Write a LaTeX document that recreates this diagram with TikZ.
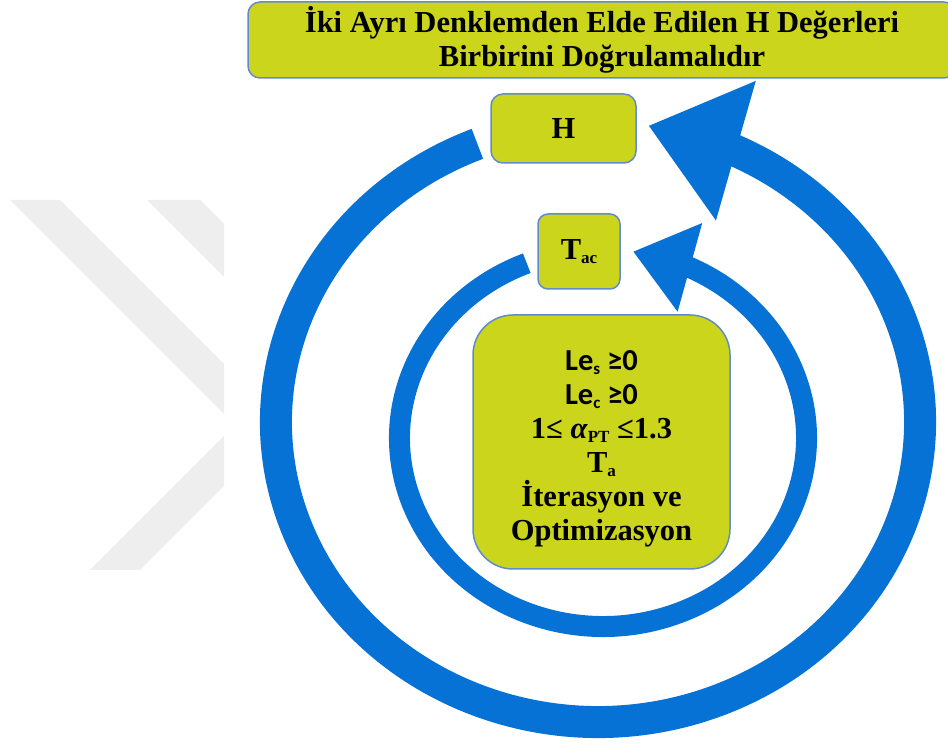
\documentclass[tikz,border=0pt]{standalone}
\usepackage{fontspec}
\setmainfont{Liberation Serif}
\newfontfamily\calib{Carlito}
\usetikzlibrary{arrows.meta,bending}
\definecolor{boxgreen}{RGB}{203,213,28}
\definecolor{boxedge}{RGB}{96,140,204}
\definecolor{ringblue}{RGB}{6,114,214}
\definecolor{wmgrey}{RGB}{238,238,238}
\newcommand{\idx}[1]{\raisebox{-0.3ex}{\fontsize{17}{17}\selectfont #1}}

\begin{document}
\begin{tikzpicture}[x=1pt, y=1pt, line width=1.5pt,
  main/.style = {draw=boxedge, fill=boxgreen, align=center, inner sep=0pt, font=\fontsize{30.5}{34}\selectfont\bfseries},
  ring/.style = {draw=ringblue, line width=#1}]
\useasboundingbox (0,0) rectangle (948,744);
\begin{scope}
\clip (0,174) rectangle (224,544);
\fill[wmgrey] (10,544) -- (60,544) -- (300,304) -- (250,304) -- cycle;
\fill[wmgrey] (147,544) -- (200,544) -- (300,444) -- (247,444) -- cycle;
\fill[wmgrey] (90,174) -- (140,174) -- (340,374) -- (290,374) -- cycle;
\end{scope}
\coordinate (oc) at (598,322);
\coordinate (ic) at (603,306);
\draw[ring=32, -{Triangle[width=139pt,length=91pt]}] (oc) ++(112:322 and 300) arc[start angle=112, end angle=441, x radius=322, y radius=300];
\draw[ring=21, -{Triangle[width=88pt,length=59pt]}] (ic) ++(112:203.5 and 188.5) arc[start angle=112, end angle=441.5, x radius=203.5, y radius=188.5];
\node[main, rounded corners=12pt, minimum width=708pt, minimum height=76pt] (top) at (602,704) {İki Ayrı Denklemden Elde Edilen H Değerleri\\Birbirini Doğrulamalıdır};
\node[main, rounded corners=12pt, minimum width=145pt, minimum height=69pt] (H) at (563.5,615.5) {H};
\node[main, rounded corners=10pt, minimum width=82pt, minimum height=75pt] (Tac) at (579,492.5) {T\idx{ac}};
\node[main, rounded corners=40pt, minimum width=257pt, minimum height=254pt] (core) at (601.5,302) {\rule{0pt}{33pt}{\calib Le\idx{s} ≥0}\\{\calib Le\idx{c} ≥0}\\1≤ \textit{α}\idx{PT} ≤1.3\\T\idx{a}\\İterasyon ve\\Optimizasyon};
\end{tikzpicture}
\end{document}
